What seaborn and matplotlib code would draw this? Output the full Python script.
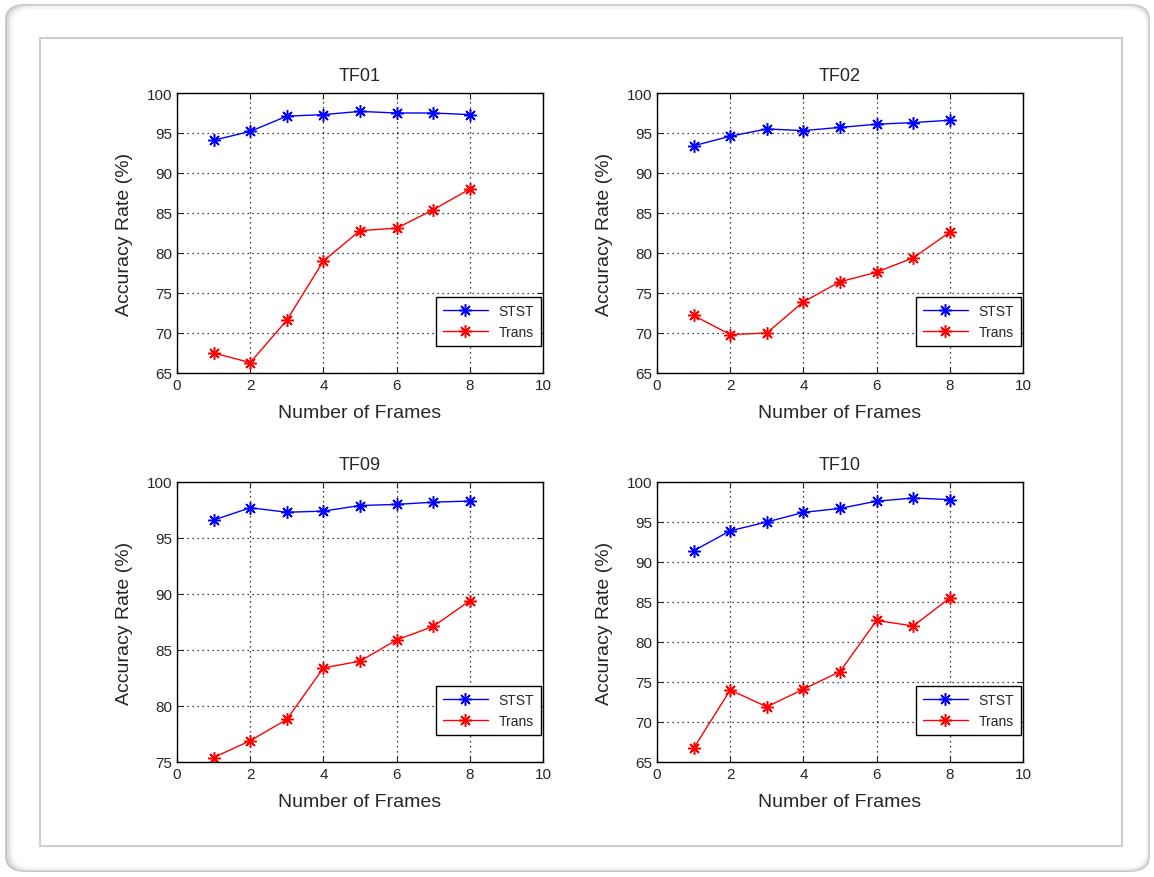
import numpy as np
import pandas as pd
import matplotlib
matplotlib.use("Agg")
import matplotlib.pyplot as plt
import seaborn as sns
from matplotlib.patches import FancyBboxPatch, Rectangle

# =========================
# DATA
# =========================

frames = [1, 2, 3, 4, 5, 6, 7, 8]

tf01_stst = [94.1, 95.2, 97.1, 97.3, 97.7, 97.5, 97.5, 97.3]
tf01_trans = [67.5, 66.3, 71.6, 79.0, 82.8, 83.1, 85.4, 88.0]

tf02_stst = [93.4, 94.6, 95.5, 95.3, 95.7, 96.1, 96.3, 96.6]
tf02_trans = [72.2, 69.8, 70.0, 73.9, 76.4, 77.6, 79.4, 82.6]

tf09_stst = [96.6, 97.7, 97.3, 97.4, 97.9, 98.0, 98.2, 98.3]
tf09_trans = [75.4, 76.9, 78.8, 83.4, 84.0, 85.9, 87.1, 89.4]

tf10_stst = [91.4, 93.9, 95.0, 96.2, 96.7, 97.6, 98.0, 97.8]
tf10_trans = [66.7, 74.0, 71.9, 74.1, 76.3, 82.7, 82.0, 85.5]

titles = ["TF01", "TF02", "TF09", "TF10"]
stst_all = [tf01_stst, tf02_stst, tf09_stst, tf10_stst]
trans_all = [tf01_trans, tf02_trans, tf09_trans, tf10_trans]
y_mins = [65, 65, 75, 65]

# =========================
# FIGURE
# =========================

sns.set_style("white")
plt.rcParams['font.family'] = ['Liberation Sans', 'DejaVu Sans']

fig = plt.figure(figsize=(11.54, 8.78), dpi=100)
W, H = 1154, 878

# frame around the picture (shadowed rounded box + inner light border)
shadow = [(5, 5, 1145, 868, 0.78), (7, 6, 1142, 866, 0.86),
          (9, 7, 1139, 864, 0.92), (11, 8, 1136, 862, 0.97)]
for i, (x0, y0, w, h, g) in enumerate(shadow):
    fig.patches.append(FancyBboxPatch((x0 / W, 1 - (y0 + h) / H), w / W, h / H,
                                      boxstyle="round,pad=0,rounding_size=0.018",
                                      transform=fig.transFigure, facecolor=(g, g, g),
                                      edgecolor="none", zorder=-10 + i))
fig.patches.append(FancyBboxPatch((13 / W, 1 - 868 / H), 1133 / W, 858 / H,
                                  boxstyle="round,pad=0,rounding_size=0.018",
                                  transform=fig.transFigure, facecolor="white",
                                  edgecolor="none", zorder=-5))
fig.patches.append(Rectangle((40 / W, 1 - 847 / H), 1082 / W, 808 / H,
                             transform=fig.transFigure, facecolor="white",
                             edgecolor="#cfcfcf", linewidth=1.5, zorder=-4))

lefts = [177, 657, 177, 657]
tops = [94, 94, 483, 483]

for k in range(4):
    ax = fig.add_axes([lefts[k] / W, 1 - (tops[k] + 280) / H, 366 / W, 280 / H])

    df = pd.DataFrame({"frames": frames, "STST": stst_all[k], "Trans": trans_all[k]})

    # MATLAB-style '*' marker: 8-spoke asterisk
    sns.lineplot(data=df, x="frames", y="STST", ax=ax, color="b", marker=(8, 2, 0),
                 markersize=9, markeredgecolor="b", markeredgewidth=1.1,
                 linewidth=1, label="STST")
    sns.lineplot(data=df, x="frames", y="Trans", ax=ax, color="r", marker=(8, 2, 0),
                 markersize=9, markeredgecolor="r", markeredgewidth=1.1,
                 linewidth=1, label="Trans")

    ax.set_xlim(0, 10)
    ax.set_ylim(y_mins[k], 100)
    ax.set_xticks(np.arange(0, 11, 2))
    ax.set_yticks(np.arange(y_mins[k], 101, 5))
    ax.grid(True, linestyle=(0, (1, 3)), color="black", linewidth=0.9)
    ax.tick_params(direction="in", length=4, width=0.8, labelsize=11,
                   top=True, right=True, bottom=True, left=True)
    for s in ax.spines.values():
        s.set_color("black")
        s.set_linewidth(1)

    ax.set_title(titles[k], fontsize=13, pad=9)
    ax.set_xlabel("Number of Frames", fontsize=14, labelpad=9)
    ax.set_ylabel("Accuracy Rate (%)", fontsize=14, labelpad=10)

    leg = ax.legend(loc="lower right", bbox_to_anchor=(0.995, 0.096),
                    borderaxespad=0, fontsize=10, frameon=True, fancybox=False,
                    edgecolor="black", handlelength=3.2,
                    borderpad=0.5, labelspacing=0.5)
    leg.get_frame().set_linewidth(1)
    leg.get_frame().set_alpha(1)

plt.savefig("out.png", dpi=100)
